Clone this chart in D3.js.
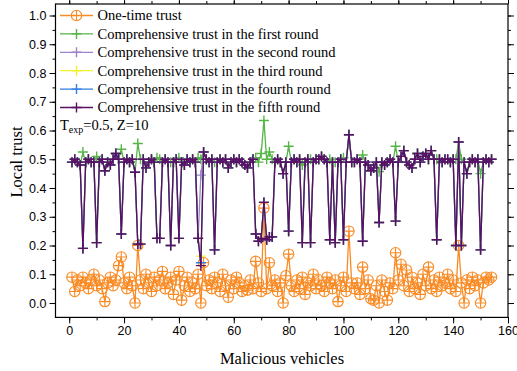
<!DOCTYPE html>
<html><head><meta charset="utf-8">
<script src="https://cdn.jsdelivr.net/npm/d3@7"></script>
<style>body{margin:0;background:#fff}</style>
</head><body>
<svg id="c" width="517" height="371"></svg>
<script>
// ---------------- data ----------------
const vehicles = d3.range(1, 155);
const oneTime = [
0.09,0.04,0.08,0.06,0.09,0.07,0.05,0.08,0.10,0.06,
0.08,0.05,0.005,0.07,0.09,0.06,0.08,0.13,0.16,0.07,
0.05,0.09,0.06,0.0,0.20,0.08,0.05,0.10,0.07,0.04,
0.09,0.06,0.08,0.11,0.05,0.07,0.09,0.03,0.08,0.11,
0.01,0.06,0.09,0.04,0.07,0.05,0.10,0.0,0.14,0.06,
0.08,0.05,0.09,0.07,0.04,0.10,0.06,0.02,0.08,0.05,
0.09,0.07,0.04,0.06,0.045,0.08,0.05,0.145,0.07,0.04,
0.33,0.05,0.14,0.06,0.08,0.04,0.07,0.0,0.095,0.17,
0.06,0.04,0.08,0.05,0.09,0.03,0.07,0.06,0.10,0.05,
0.08,0.06,0.04,0.09,0.07,0.05,0.08,0.005,0.06,0.09,
0.04,0.25,0.07,0.05,0.07,0.03,0.125,0.05,0.08,0.015,
0.01,0.06,0.0,0.08,0.04,0.01,0.07,0.05,0.175,0.08,
0.135,0.06,0.115,0.04,0.09,0.05,0.07,0.03,0.10,0.06,
0.125,0.05,0.08,0.04,0.09,0.06,0.07,0.10,0.05,0.08,
0.04,0.20,0.07,0.0,0.08,0.05,0.09,0.06,0.08,0.0,
0.07,0.09,0.08,0.09];
const round1 = [
0.49,0.50,0.49,0.48,0.525,0.49,0.50,0.49,0.49,0.51,
0.49,0.50,0.46,0.49,0.48,0.50,0.52,0.50,0.535,0.49,
0.50,0.49,0.50,0.455,0.555,0.50,0.50,0.47,0.49,0.50,
0.49,0.505,0.50,0.49,0.50,0.49,0.49,0.49,0.50,0.505,
0.49,0.48,0.50,0.49,0.50,0.49,0.505,0.50,0.525,0.50,
0.49,0.50,0.49,0.49,0.50,0.49,0.50,0.47,0.49,0.50,
0.49,0.50,0.49,0.48,0.47,0.49,0.50,0.505,0.49,0.52,
0.635,0.50,0.525,0.50,0.49,0.50,0.49,0.45,0.49,0.545,
0.49,0.50,0.49,0.50,0.48,0.49,0.50,0.50,0.49,0.50,
0.50,0.51,0.50,0.49,0.50,0.49,0.49,0.49,0.50,0.505,
0.49,0.585,0.49,0.49,0.50,0.49,0.515,0.49,0.48,0.46,
0.47,0.49,0.457,0.49,0.48,0.49,0.50,0.49,0.545,0.49,
0.51,0.53,0.49,0.48,0.47,0.50,0.52,0.49,0.51,0.52,
0.50,0.53,0.50,0.50,0.50,0.49,0.50,0.50,0.49,0.50,
0.50,0.56,0.50,0.49,0.45,0.49,0.50,0.49,0.50,0.45,
0.49,0.50,0.49,0.50];
const round5 = [
0.49,0.50,0.49,0.48,0.19,0.49,0.50,0.49,0.49,0.21,
0.49,0.50,0.46,0.49,0.48,0.50,0.52,0.50,0.24,0.49,
0.50,0.49,0.50,0.455,0.205,0.205,0.50,0.47,0.49,0.50,
0.49,0.225,0.225,0.49,0.50,0.49,0.20,0.49,0.50,0.225,
0.49,0.48,0.50,0.49,0.50,0.49,0.225,0.13,0.525,0.50,
0.49,0.50,0.185,0.49,0.50,0.49,0.50,0.47,0.49,0.50,
0.49,0.50,0.49,0.48,0.47,0.49,0.50,0.24,0.215,0.225,
0.35,0.22,0.23,0.23,0.49,0.50,0.49,0.45,0.49,0.25,
0.49,0.50,0.49,0.50,0.21,0.49,0.50,0.21,0.49,0.50,
0.50,0.51,0.50,0.49,0.22,0.49,0.21,0.49,0.50,0.22,
0.49,0.585,0.49,0.49,0.50,0.49,0.215,0.49,0.48,0.46,
0.47,0.49,0.28,0.49,0.48,0.49,0.50,0.49,0.285,0.49,
0.51,0.53,0.49,0.48,0.47,0.50,0.52,0.49,0.51,0.52,
0.50,0.53,0.50,0.22,0.50,0.49,0.50,0.50,0.49,0.50,
0.20,0.56,0.20,0.49,0.45,0.49,0.50,0.49,0.50,0.185,
0.49,0.50,0.49,0.50];
const round2 = round5.map((v, i) => i === 47 ? 0.445 : v);
const round3 = round5.map((v, i) => i === 47 ? 0.163 : v);
const round4 = round5.map((v, i) => i === 47 ? 0.14 : v);
const xTicks = [0, 20, 40, 60, 80, 100, 120, 140, 160];
const yTicks = [0.0, 0.1, 0.2, 0.3, 0.4, 0.5, 0.6, 0.7, 0.8, 0.9, 1.0];
const seriesNames = ["One-time trust", "Comprehensive trust in the first round",
  "Comprehensive trust in the second round", "Comprehensive trust in the third round",
  "Comprehensive trust in the fourth round", "Comprehensive trust in the fifth round"];
const seriesColors = ["#F98B25", "#55B547", "#9C82CB", "#F2F230", "#2F7FE0", "#5A0F62"];
const seriesValues = [oneTime, round1, round2, round3, round4, round5];

// ---------------- chart ----------------
const svg = d3.select("#c");
const L = 55.5, R = 508, T = 4, B = 317.4;
const x = d3.scaleLinear().domain([-5, 160]).range([L, R]);
const y = d3.scaleLinear().domain([-0.05, 1.04]).range([B, T]);

const tickFont = "'Liberation Sans', Arial, sans-serif";
const serif = "'Liberation Serif', 'Times New Roman', serif";

function styleAxis(g) {
  g.selectAll("path").remove();
  g.selectAll("line").attr("stroke", "#000").attr("stroke-width", 1);
  g.selectAll("text").attr("font-family", tickFont).attr("font-size", 12.5).attr("fill", "#000");
}
const minorX = d3.range(-0, 161, 10);
const minorY = d3.range(0, 1.001, 0.05);

// bottom
svg.append("g").attr("transform", `translate(0,${B})`)
  .call(d3.axisBottom(x).tickValues(minorX).tickSize(3).tickFormat("")).call(styleAxis);
svg.append("g").attr("transform", `translate(0,${B})`)
  .call(d3.axisBottom(x).tickValues(xTicks).tickSize(6).tickPadding(3).tickFormat(d3.format("d"))).call(styleAxis);
// top
svg.append("g").attr("transform", `translate(0,${T})`)
  .call(d3.axisTop(x).tickValues(minorX).tickSize(3).tickFormat("")).call(styleAxis);
svg.append("g").attr("transform", `translate(0,${T})`)
  .call(d3.axisTop(x).tickValues(xTicks).tickSize(6).tickFormat("")).call(styleAxis);
// left
svg.append("g").attr("transform", `translate(${L},0)`)
  .call(d3.axisLeft(y).tickValues(minorY).tickSize(3).tickFormat("")).call(styleAxis);
svg.append("g").attr("transform", `translate(${L},0)`)
  .call(d3.axisLeft(y).tickValues(yTicks).tickSize(6).tickPadding(3).tickFormat(d3.format(".1f"))).call(styleAxis);
// right
svg.append("g").attr("transform", `translate(${R},0)`)
  .call(d3.axisRight(y).tickValues(minorY).tickSize(3).tickFormat("")).call(styleAxis);
svg.append("g").attr("transform", `translate(${R},0)`)
  .call(d3.axisRight(y).tickValues(yTicks).tickSize(6).tickFormat("")).call(styleAxis);

svg.append("rect").attr("x", L).attr("y", T).attr("width", R - L).attr("height", B - T)
  .attr("fill", "none").attr("stroke", "#000").attr("stroke-width", 1.2);

const line = d3.line().x((d, i) => x(vehicles[i])).y(d => y(d));
const plus = "M-5,0H5M0,-5V5";

function drawCircleMarker(g, cx, cy, color) {
  g.append("circle").attr("cx", cx).attr("cy", cy).attr("r", 5.2)
    .attr("fill", "none").attr("stroke", color).attr("stroke-width", 1.1);
  g.append("path").attr("d", `M${cx - 5.2},${cy}H${cx + 5.2}M${cx},${cy - 5.2}V${cy + 5.2}`)
    .attr("stroke", color).attr("stroke-width", 1.1);
}

seriesValues.forEach((vals, s) => {
  const color = seriesColors[s];
  const g = svg.append("g");
  g.append("path").attr("d", line(vals)).attr("fill", "none")
    .attr("stroke", color).attr("stroke-width", 1.3);
  if (s === 0) {
    vals.forEach((v, i) => drawCircleMarker(g, x(vehicles[i]), y(v), color));
  } else {
    g.selectAll("path.m").data(vals).join("path").attr("class", "m")
      .attr("d", plus)
      .attr("transform", (d, i) => `translate(${x(vehicles[i])},${y(d)})`)
      .attr("stroke", color).attr("stroke-width", 1.4);
  }
});

// legend
const lg = svg.append("g");
seriesNames.forEach((name, s) => {
  const yy = 15.5 + s * 18.4;
  const color = seriesColors[s];
  lg.append("line").attr("x1", 60).attr("x2", 93).attr("y1", yy).attr("y2", yy)
    .attr("stroke", color).attr("stroke-width", 1.3);
  if (s === 0) drawCircleMarker(lg, 76.5, yy, color);
  else lg.append("path").attr("d", plus).attr("transform", `translate(76.5,${yy})`)
    .attr("stroke", color).attr("stroke-width", 1.4);
  lg.append("text").attr("x", 97.5).attr("y", yy + 4.8).attr("font-family", serif)
    .attr("font-size", 14.5).attr("fill", "#000").text(name);
});

// annotation
const ann = svg.append("text").attr("x", 60).attr("y", 130).attr("font-family", serif)
  .attr("font-size", 14.5).attr("fill", "#000");
ann.append("tspan").text("T");
ann.append("tspan").attr("font-size", 10).attr("dy", 3).text("exp");
ann.append("tspan").attr("dy", -3).text("=0.5, Z=10");

// axis titles
svg.append("text").attr("transform", "translate(22,162) rotate(-90)").attr("text-anchor", "middle")
  .attr("font-family", serif).attr("font-size", 16.5).attr("fill", "#000").text("Local trust");
svg.append("text").attr("x", 282).attr("y", 364).attr("text-anchor", "middle")
  .attr("font-family", serif).attr("font-size", 16.5).attr("fill", "#000").text("Malicious vehicles");
</script>
</body></html>
